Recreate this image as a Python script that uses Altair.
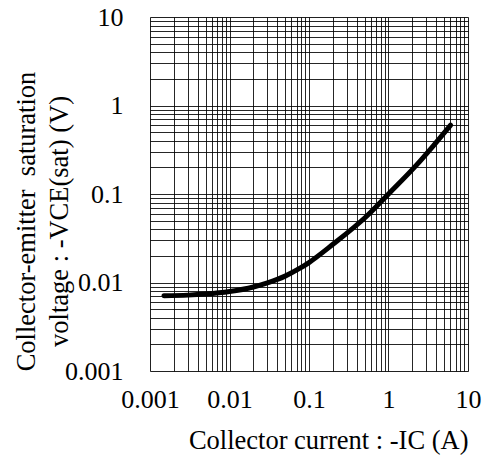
import altair as alt
import pandas as pd

# Curve
ic = [0.0015, 0.003, 0.005, 0.01, 0.02, 0.03, 0.05, 0.077, 0.1, 0.2, 0.53, 1.0, 2.26, 3.66, 6.05]
vce = [0.0071, 0.0072, 0.0074, 0.0079, 0.0089, 0.0099, 0.0118, 0.0145, 0.0168, 0.027, 0.056, 0.100, 0.213, 0.350, 0.60]

grid_values = [0.001, 0.002, 0.003, 0.004, 0.005, 0.006, 0.007, 0.008, 0.009,
               0.01, 0.02, 0.03, 0.04, 0.05, 0.06, 0.07, 0.08, 0.09,
               0.1, 0.2, 0.3, 0.4, 0.5, 0.6, 0.7, 0.8, 0.9,
               1, 2, 3, 4, 5, 6, 7, 8, 9, 10]

x_title = "Collector current : -IC (A)"
y_title = ["Collector-emitter\u00a0 saturation", "voltage : -VCE(sat) (V)"]

df = pd.DataFrame({"ic": ic, "vce": vce})

FONT = "Liberation Serif"
label_expr = ("abs(log(datum.value)/LN10 - round(log(datum.value)/LN10)) < 0.000001 ? "
              "format(datum.value, '~g') : ''")

x_axis = alt.Axis(
    values=grid_values, labelExpr=label_expr, grid=True, ticks=False, domain=False,
    labelFont=FONT, labelFontSize=26, labelColor="black", labelPadding=15,
    labelOverlap=False, labelFlush=False,
    gridColor="black", gridOpacity=0.85, gridWidth=1,
    title=x_title, titleFont=FONT, titleFontSize=26.5,
    titleFontWeight="normal", titleColor="black", titleAnchor="end",
    titleBaseline="alphabetic", titleY=77,
)
y_axis = alt.Axis(
    values=grid_values, labelExpr=label_expr, grid=True, ticks=False, domain=False,
    labelFont=FONT, labelFontSize=26, labelColor="black", labelPadding=27,
    labelOverlap=False, labelFlush=False,
    gridColor="black", gridOpacity=0.85, gridWidth=1,
    title=y_title,
    titleFont=FONT, titleFontSize=26.5, titleFontWeight="normal", titleColor="black",
    titleLineHeight=33, titleX=-110, titleY=204,
)

chart = alt.Chart(df).mark_line(
    color="black", strokeWidth=5, strokeCap="round", interpolate="monotone"
).encode(
    x=alt.X("ic:Q", scale=alt.Scale(type="log", domain=[0.001, 10], nice=False), axis=x_axis),
    y=alt.Y("vce:Q", scale=alt.Scale(type="log", domain=[0.001, 10], nice=False), axis=y_axis),
).properties(
    width=318, height=354,
    autosize=alt.AutoSizeParams(type="none"),
    padding={"left": 142, "top": 9, "right": 21, "bottom": 90},
).configure_view(
    stroke="black", strokeWidth=2
).configure(background="white")

chart.save("out.html", embed_options={"renderer": "svg", "actions": False})
